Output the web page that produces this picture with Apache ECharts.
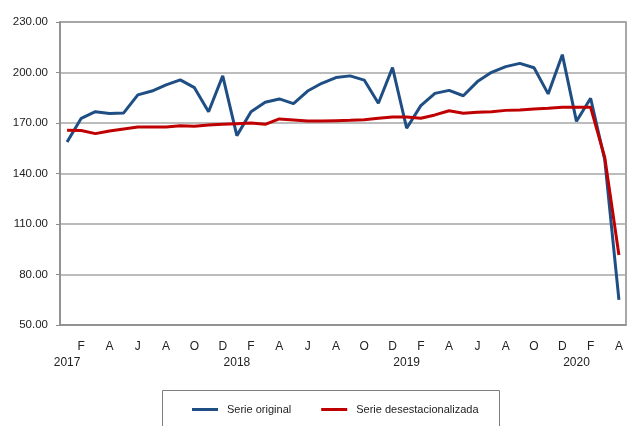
<!DOCTYPE html>
<html>
<head>
<meta charset="utf-8">
<script src="https://cdn.jsdelivr.net/npm/echarts@6/dist/echarts.min.js"></script>
<style>
  html, body { margin: 0; padding: 0; background: #fff; }
  #c_chart { width: 630px; height: 426px; }
</style>
</head>
<body>
<div id="c_chart"></div>
<script>
// meses ene-2017 .. abr-2020
const categories = [
  '2017-01', '2017-02', '2017-03', '2017-04', '2017-05', '2017-06', '2017-07', '2017-08', '2017-09', '2017-10', '2017-11', '2017-12',
  '2018-01', '2018-02', '2018-03', '2018-04', '2018-05', '2018-06', '2018-07', '2018-08', '2018-09', '2018-10', '2018-11', '2018-12',
  '2019-01', '2019-02', '2019-03', '2019-04', '2019-05', '2019-06', '2019-07', '2019-08', '2019-09', '2019-10', '2019-11', '2019-12',
  '2020-01', '2020-02', '2020-03', '2020-04'
]
const tickLabels = [
  '\n2017', 'F', '', 'A', '', 'J', '', 'A', '', 'O', '', 'D',
  '\n2018', 'F', '', 'A', '', 'J', '', 'A', '', 'O', '', 'D',
  '\n2019', 'F', '', 'A', '', 'J', '', 'A', '', 'O', '', 'D',
  '\n2020', 'F', '', 'A'
]
const serieOriginal = [
  158.7, 172.8, 176.7, 175.6, 176.0, 186.7, 189.0, 192.6, 195.6, 191.0, 176.7, 198.0,
  162.5, 176.7, 182.3, 184.3, 181.5, 189.0, 193.6, 197.0, 198.0, 195.5, 181.7, 202.9,
  166.9, 180.3, 187.6, 189.4, 186.2, 194.6, 200.1, 203.5, 205.4, 202.8, 187.3, 210.6,
  171.0, 184.7, 148.0, 64.9
]
const serieDesest = [
  165.7, 165.5, 163.7, 165.3, 166.5, 167.6, 167.6, 167.6, 168.4, 168.0, 168.8, 169.2,
  169.6, 170.0, 169.2, 172.4, 171.8, 171.2, 171.2, 171.4, 171.6, 172.0, 172.8, 173.6,
  173.6, 172.8, 174.8, 177.3, 175.8, 176.4, 176.7, 177.5, 177.7, 178.3, 178.7, 179.3,
  179.3, 179.3, 149.5, 91.6
]
const yTicks = { min: 50, max: 230, interval: 30 }

const chart = echarts.init(document.getElementById('c_chart'))
const font = '"Liberation Sans", Arial, sans-serif'
const option = {
  animation: false,
  grid: {
    left: 60,
    right: 4,
    top: 22,
    bottom: 101,
    show: true,
    borderColor: '#8c8c8c',
    borderWidth: 1.5
  },
  legend: {
    left: 187,
    top: 399,
    icon: 'rect',
    itemWidth: 26,
    itemHeight: 3,
    itemGap: 30,
    data: ['Serie original', 'Serie desestacionalizada'],
    textStyle: {
      fontFamily: font,
      fontSize: 11,
      color: '#222',
      padding: [0, 0, 0, 4]
    }
  },
  graphic: [{
    type: 'rect',
    shape: { x: 162.5, y: 390.5, width: 337, height: 60 },
    style: { fill: 'none', stroke: '#7f7f7f', lineWidth: 1 }
  }],
  xAxis: {
    type: 'category',
    boundaryGap: true,
    data: categories,
    axisLine: { lineStyle: { color: '#8c8c8c', width: 1.5 } },
    axisTick: {
      length: 5,
      interval: function (idx) { return idx % 6 === 0 },
      lineStyle: { color: '#8c8c8c', width: 1.5 }
    },
    axisLabel: {
      interval: 0,
      margin: 14,
      fontFamily: font,
      fontSize: 12,
      lineHeight: 16,
      color: '#222',
      formatter: function (val, idx) { return tickLabels[idx] }
    },
    splitLine: { show: false }
  },
  yAxis: {
    type: 'value',
    min: yTicks.min,
    max: yTicks.max,
    interval: yTicks.interval,
    axisLine: { show: true, lineStyle: { color: '#8c8c8c', width: 1.5 } },
    axisTick: { show: true, length: 4, lineStyle: { color: '#8c8c8c' } },
    axisLabel: {
      margin: 12,
      fontFamily: font,
      fontSize: 11.5,
      color: '#222',
      formatter: function (v) { return v.toFixed(2) }
    },
    splitLine: { lineStyle: { color: '#a6a6a6', width: 1.5 } }
  },
  series: [{
    name: 'Serie original',
    type: 'line',
    symbol: 'none',
    data: serieOriginal,
    lineStyle: { width: 3, color: '#1f4e84' },
    itemStyle: { color: '#1f4e84' }
  }, {
    name: 'Serie desestacionalizada',
    type: 'line',
    symbol: 'none',
    data: serieDesest,
    lineStyle: { width: 3, color: '#c00000' },
    itemStyle: { color: '#c00000' }
  }]
}
chart.setOption(option)
</script>
</body>
</html>
